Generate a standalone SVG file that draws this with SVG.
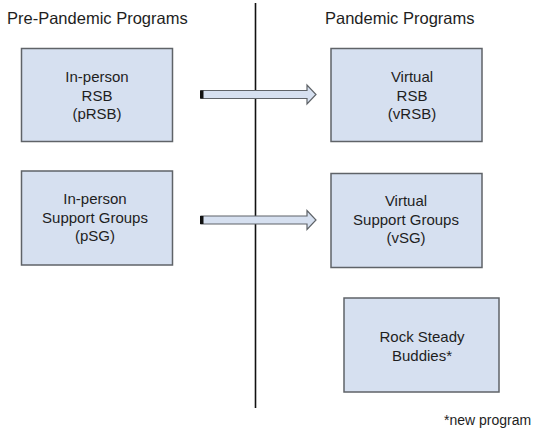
<svg xmlns="http://www.w3.org/2000/svg" width="536" height="440" viewBox="0 0 536 440">
<style>
.box{fill:#d6e0f0;stroke:#5f6368;stroke-width:1.5}
.t{font-family:"Liberation Sans",Arial,sans-serif;font-size:15px;fill:#1e1e1e;text-anchor:middle}
.h{font-family:"Liberation Sans",Arial,sans-serif;font-size:16.5px;fill:#1e1e1e}
.arr{fill:#d6e0f0;stroke:#5f6368;stroke-width:1.2}
</style>
<rect width="536" height="440" fill="#fff"/>
<text class="h" x="7" y="24">Pre-Pandemic Programs</text>
<text class="h" x="325" y="24">Pandemic Programs</text>
<g id="connectors">
<line x1="255.5" y1="3" x2="255.5" y2="408" stroke="#111" stroke-width="1.6"/>
<g id="arrow1">
<path class="arr" d="M201 90.5 H307 V85 L316 94.5 L307 104 V98.5 H201 Z"/>
<rect x="200" y="90.5" width="3.5" height="8" fill="#111"/>
</g>
<g id="arrow2">
<path class="arr" d="M201 216 H307 V210.5 L316 220 L307 229.5 V224 H201 Z"/>
<rect x="200" y="216" width="3.5" height="8" fill="#111"/>
</g>
</g>
<g id="pRSB">
<rect class="box" x="21.5" y="48.5" width="151" height="93"/>
<text class="t"><tspan x="97" y="82">In-person</tspan><tspan x="97" y="100.5">RSB</tspan><tspan x="97" y="119">(pRSB)</tspan></text>
</g>
<g id="pSG">
<rect class="box" x="21.5" y="171" width="151" height="94"/>
<text class="t"><tspan x="95" y="204">In-person</tspan><tspan x="95" y="222.5">Support Groups</tspan><tspan x="95" y="241">(pSG)</tspan></text>
</g>
<g id="vRSB">
<rect class="box" x="331" y="48.5" width="151" height="93"/>
<text class="t"><tspan x="412" y="82">Virtual</tspan><tspan x="412" y="100.5">RSB</tspan><tspan x="412" y="119">(vRSB)</tspan></text>
</g>
<g id="vSG">
<rect class="box" x="331" y="173.5" width="151" height="94"/>
<text class="t"><tspan x="406" y="206">Virtual</tspan><tspan x="406" y="224.5">Support Groups</tspan><tspan x="406" y="243">(vSG)</tspan></text>
</g>
<g id="rsbuddies">
<rect class="box" x="344" y="298" width="155" height="94"/>
<text class="t"><tspan x="422" y="342">Rock Steady</tspan><tspan x="422" y="361">Buddies*</tspan></text>
</g>
<text x="444" y="425" font-family="'Liberation Sans',Arial,sans-serif" font-size="14" fill="#1e1e1e">*new program</text>
</svg>
